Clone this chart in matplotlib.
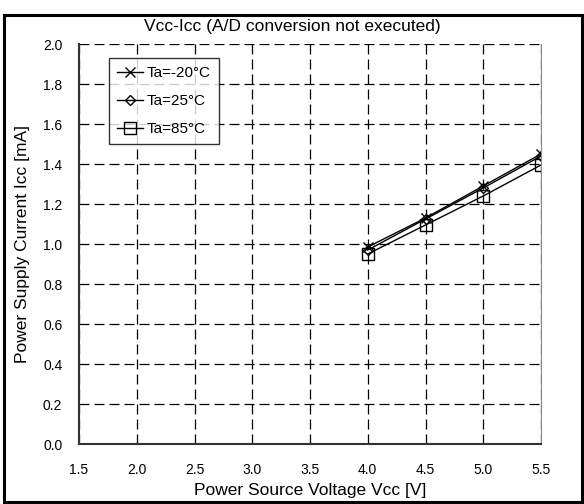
import matplotlib
matplotlib.use("Agg")
import matplotlib.pyplot as plt
from matplotlib.patches import Rectangle

plt.rcParams["font.family"] = ["Liberation Sans", "DejaVu Sans"]

# data
vcc = [4.0, 4.5, 5.0, 5.5]
icc_m20 = [0.985, 1.13, 1.29, 1.45]
icc_25 = [0.97, 1.125, 1.28, 1.44]
icc_85 = [0.95, 1.095, 1.24, 1.395]
x_ticks = [1.5, 2.0, 2.5, 3.0, 3.5, 4.0, 4.5, 5.0, 5.5]
y_ticks = [0.0, 0.2, 0.4, 0.6, 0.8, 1.0, 1.2, 1.4, 1.6, 1.8, 2.0]

W, H = 584, 504
fig = plt.figure(figsize=(W / 100, H / 100), dpi=100)
ax = fig.add_axes([79 / W, 1 - 444 / H, (541 - 79) / W, (444 - 44) / H])

# outer frame
fig.patches.append(Rectangle((4 / W, 1 - 502 / H), (582 - 4) / W, (502 - 15) / H,
                             transform=fig.transFigure, fill=False,
                             edgecolor="black", linewidth=2.2))

ax.plot(vcc, icc_m20, color="black", lw=1, marker="x", ms=7, mew=1,
        label="Ta=-20°C")
ax.plot(vcc, icc_25, color="black", lw=1, marker="D", ms=5.5, mfc="none",
        mew=1, label="Ta=25°C")
ax.plot(vcc, icc_85, color="black", lw=1, marker="s", ms=8.5, mfc="none",
        mew=1, label="Ta=85°C")

ax.set_xlim(1.5, 5.5)
ax.set_ylim(0, 2.0)
ax.set_xticks(x_ticks)
ax.set_yticks(y_ticks)
ax.set_xticklabels([f"{v:.1f}" for v in x_ticks])
ax.set_yticklabels([f"{v:.1f}" for v in y_ticks])
ax.tick_params(length=0, labelsize=10)
ax.tick_params(axis="x", pad=14)
ax.tick_params(axis="y", pad=12)
ax.grid(True, color="black", linestyle=(0, (8, 4)), linewidth=0.9)

ax.spines["top"].set_visible(False)
ax.spines["right"].set_color("#888888")
for side in ["left", "bottom"]:
    ax.spines[side].set_linewidth(1.5)
    ax.spines[side].set_color("#333333")

fig.text(310 / W, 1 - 491 / H, "Power Source Voltage Vcc [V]",
         ha="center", va="center", fontsize=12.5)
fig.text(23 / W, 1 - 244 / H, "Power Supply Current Icc [mA]",
         ha="center", va="center", rotation=90, fontsize=12.5)
fig.text(292 / W, 1 - 27 / H, "Vcc-Icc (A/D conversion not executed)",
         ha="center", va="center", fontsize=12.5)

leg = ax.legend(loc="upper left", bbox_to_anchor=(0.065, 0.965),
                fontsize=11, frameon=True, fancybox=False,
                handlelength=1.7, handletextpad=0.2, borderpad=0.55,
                labelspacing=0.9, borderaxespad=0)
leg.get_frame().set_edgecolor("black")
leg.get_frame().set_linewidth(1)

fig.savefig("out.png", dpi=100)
